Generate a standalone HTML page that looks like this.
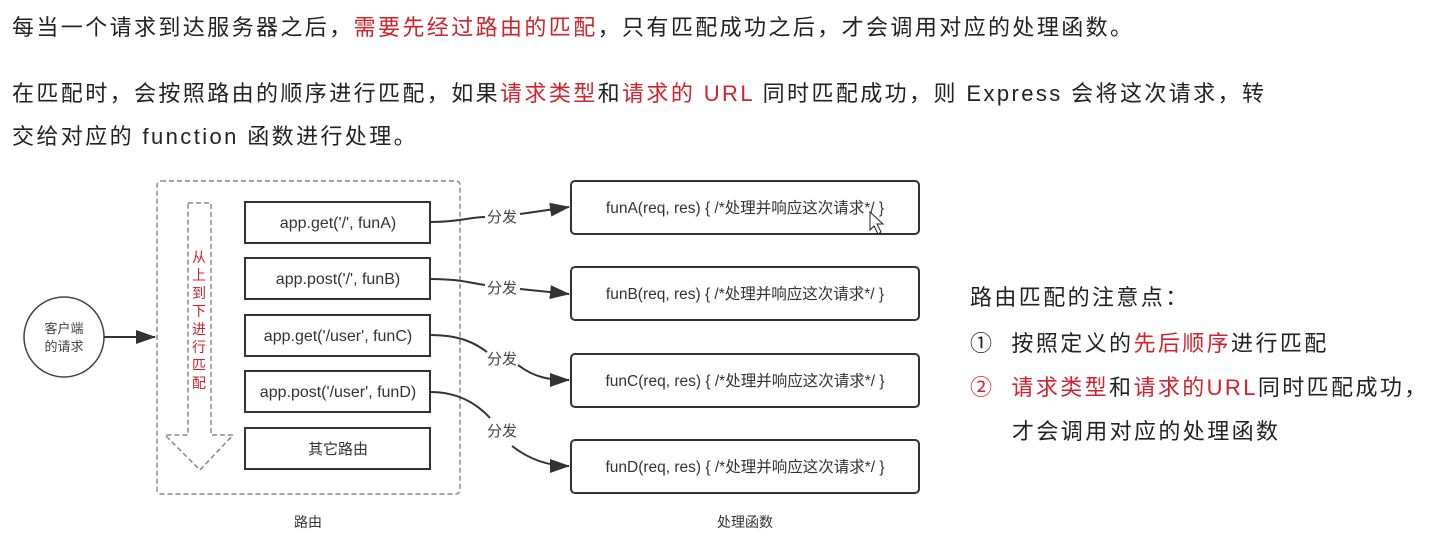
<!DOCTYPE html>
<html><head><meta charset="utf-8"><style>
body{margin:0;width:1442px;height:535px;background:#fff;position:relative;overflow:hidden;font-family:"Liberation Sans","Noto Sans CJK SC",sans-serif;color:#222}
.t{position:absolute;font-size:22px;letter-spacing:2.4px;white-space:nowrap;line-height:1}
.r{color:#d6202a}
svg{position:absolute;left:0;top:0}
</style></head><body>
<div class="t" style="left:12px;top:17px">每当一个请求到达服务器之后，<span class="r">需要先经过路由的匹配</span>，只有匹配成功之后，才会调用对应的处理函数。</div>
<div class="t" style="left:12px;top:83px">在匹配时，会按照路由的顺序进行匹配，如果<span class="r">请求类型</span>和<span class="r">请求的 URL</span> 同时匹配成功，则 Express 会将这次请求，转</div>
<div class="t" style="left:12px;top:126px">交给对应的 function 函数进行处理。</div>
<div class="t" style="left:970px;top:287px">路由匹配的注意点：</div>
<div class="t" style="left:970px;top:333px">①&nbsp; 按照定义的<span class="r">先后顺序</span>进行匹配</div>
<div class="t" style="left:970px;top:377px"><span class="r">②&nbsp; 请求类型</span>和<span class="r">请求的URL</span>同时匹配成功，</div>
<div class="t" style="left:1012px;top:421px">才会调用对应的处理函数</div>
<svg width="1442" height="535" font-family="Liberation Sans, Noto Sans CJK SC, sans-serif">
<defs><marker id="b" markerWidth="20" markerHeight="14" refX="19" refY="7" orient="auto" markerUnits="userSpaceOnUse"><path d="M0,0 L20,7 L0,14 Z" fill="#333"/></marker></defs>
<circle cx="64" cy="337" r="40" fill="#fff" stroke="#444" stroke-width="1.5"/>
<text x="64" y="333" font-size="13" text-anchor="middle" fill="#444">客户端</text>
<text x="64" y="351" font-size="13" text-anchor="middle" fill="#444">的请求</text>
<line x1="104" y1="337" x2="155" y2="337" stroke="#333" stroke-width="2" marker-end="url(#b)"/>
<rect x="157" y="181" width="303" height="313" rx="4" fill="none" stroke="#888" stroke-width="1.5" stroke-dasharray="5,3"/>
<path d="M188,203 H211 V435 H233 L200,470 L165,435 H188 Z" fill="none" stroke="#888" stroke-width="1.5" stroke-dasharray="5,3"/>
<g font-size="14" fill="#d6202a" text-anchor="middle">
<text x="199" y="262">从</text><text x="199" y="280">上</text><text x="199" y="298">到</text><text x="199" y="316">下</text><text x="199" y="334">进</text><text x="199" y="352">行</text><text x="199" y="370">匹</text><text x="199" y="388">配</text></g>
<g fill="#fff" stroke="#333" stroke-width="2">
<rect x="245" y="202" width="185" height="41"/><rect x="245" y="258" width="185" height="41"/><rect x="245" y="315" width="185" height="41"/><rect x="245" y="371" width="185" height="41"/><rect x="245" y="428" width="185" height="41"/></g>
<g font-size="16" fill="#333" text-anchor="middle">
<text x="338" y="228">app.get('/', funA)</text><text x="338" y="284">app.post('/', funB)</text><text x="338" y="341">app.get('/user', funC)</text><text x="338" y="397">app.post('/user', funD)</text><text x="338" y="454" font-size="15">其它路由</text></g>
<g fill="#fff" stroke="#333" stroke-width="2">
<rect x="571" y="181" width="348" height="53" rx="4"/><rect x="571" y="267" width="348" height="53" rx="4"/><rect x="571" y="354" width="348" height="53" rx="4"/><rect x="571" y="440" width="348" height="53" rx="4"/></g>
<g font-size="15.5" fill="#333" text-anchor="middle">
<text x="745" y="213">funA(req, res) { /*处理并响应这次请求*/ }</text>
<text x="745" y="299">funB(req, res) { /*处理并响应这次请求*/ }</text>
<text x="745" y="386">funC(req, res) { /*处理并响应这次请求*/ }</text>
<text x="745" y="472">funD(req, res) { /*处理并响应这次请求*/ }</text></g>
<g font-size="14" fill="#333" text-anchor="middle">
<text x="308" y="527">路由</text><text x="745" y="527">处理函数</text></g>
<g fill="none" stroke="#333" stroke-width="2">
<path d="M430,222 C460,222 470,217 485,217"/><path d="M520,214 L569,207" marker-end="url(#b)"/>
<path d="M430,279 C460,279 470,283 485,285"/><path d="M520,289 L569,294" marker-end="url(#b)"/>
<path d="M430,335 C460,335 475,343 487,352"/><path d="M518,365 C535,378 550,380 569,380" marker-end="url(#b)"/>
<path d="M430,392 C460,392 478,405 490,418"/><path d="M512,446 C530,460 550,466 569,466" marker-end="url(#b)"/></g>
<g font-size="15" fill="#444" text-anchor="middle">
<text x="502" y="222">分发</text><text x="502" y="293">分发</text><text x="502" y="364">分发</text><text x="502" y="436">分发</text></g>
<path d="M870,212 L870,230 L874,226 L878,234 L881,232 L877,224 L883,224 Z" fill="#fff" stroke="#222" stroke-width="1"/>
</svg>
</body></html>
